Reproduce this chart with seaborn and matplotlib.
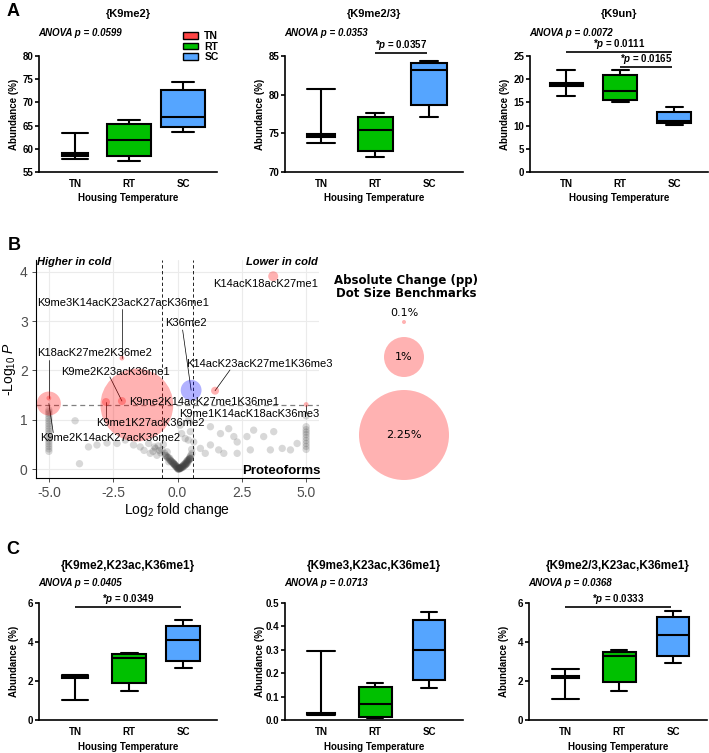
#!/usr/bin/env python3

import numpy as np
import pandas as pd
import matplotlib.pyplot as plt
import seaborn as sns
from matplotlib.patches import Patch
from matplotlib.ticker import FormatStrFormatter

sns.set_theme(style="ticks")
plt.rcParams['font.family'] = ['Liberation Sans', 'DejaVu Sans']
plt.rcParams['mathtext.fontset'] = 'custom'
plt.rcParams['mathtext.rm'] = 'Liberation Sans'
plt.rcParams['mathtext.it'] = 'Liberation Sans:italic'
plt.rcParams['mathtext.bf'] = 'Liberation Sans:bold'
plt.rcParams['mathtext.bfit'] = 'Liberation Sans:italic:bold'
plt.rcParams['axes.unicode_minus'] = False
for k in ['text.color', 'axes.labelcolor', 'xtick.color', 'ytick.color', 'axes.edgecolor']:
    plt.rcParams[k] = 'black'

# ============================================
# Data
# ============================================
groups = ['TN', 'RT', 'SC']
group_colors = ['#FF4545', '#00C000', '#55A5FF']

# five-number summaries per group: min, q1, median, q3, max (abundance %)
k9me2 = {'TN': [57.8, 58.4, 58.7, 59.0, 63.5],
         'RT': [57.4, 58.4, 61.9, 65.3, 66.2],
         'SC': [63.7, 64.6, 66.8, 72.6, 74.4]}
k9me23 = {'TN': [73.8, 74.55, 74.7, 74.85, 80.7],
          'RT': [71.9, 72.7, 75.4, 77.1, 77.6],
          'SC': [77.1, 78.7, 83.2, 84.1, 84.4]}
k9un = {'TN': [16.4, 18.6, 18.85, 19.1, 21.9],
        'RT': [15.1, 15.6, 17.5, 20.8, 21.9],
        'SC': [10.1, 10.5, 10.9, 13.0, 14.1]}
k9me2_k23ac_k36me1 = {'TN': [1.03, 2.13, 2.18, 2.24, 2.31],
                      'RT': [1.49, 1.92, 3.17, 3.38, 3.46],
                      'SC': [2.66, 3.03, 4.11, 4.83, 5.14]}
k9me3_k23ac_k36me1 = {'TN': [0.021, 0.024, 0.027, 0.031, 0.297],
                      'RT': [0.007, 0.014, 0.069, 0.140, 0.160],
                      'SC': [0.136, 0.171, 0.300, 0.426, 0.461]}
k9me23_k23ac_k36me1 = {'TN': [1.06, 2.14, 2.20, 2.26, 2.61],
                       'RT': [1.51, 1.94, 3.26, 3.51, 3.60],
                       'SC': [2.91, 3.29, 4.37, 5.28, 5.61]}

anova_p = ['0.0599', '0.0353', '0.0072', '0.0405', '0.0713', '0.0368']
# pairwise comparisons: (group a, group b, p)
pairs_k9me23 = [('RT', 'SC', '0.0357')]
pairs_k9un = [('TN', 'SC', '0.0111'), ('RT', 'SC', '0.0165')]
pairs_c1 = [('TN', 'SC', '0.0349')]
pairs_c3 = [('TN', 'SC', '0.0333')]

# volcano: non-significant proteoforms (log2 FC, -log10 p)
ns_lfc = [-5.0, -5.0, -5.0, -5.0, -5.0, -5.0, -5.0, -5.0, -5.0, -5.0, -5.0, -5.0,
          -5.0, -5.0, -5.0, -5.0, -5.0, -5.0,
          5.0, 5.0, 5.0, 5.0, 5.0, 5.0, 5.0, 5.0, 5.0, 5.0,
          -3.98, -3.81, -3.46, -3.13, -2.74, -2.35, -2.03, -1.71, -1.45, -1.12, -0.86,
          -0.60, -1.06, -0.80, -0.47, -0.41, -0.34, -0.28, -0.15, -0.08, -0.02, 0.05,
          0.11, 0.18, 0.24, 0.30, 0.37, 0.43, 0.50, 0.56, 0.43, 0.50, 0.30, 0.63, 0.16,
          0.42, 0.10, 1.28, 1.67, 1.99, 2.19, 2.32, 2.70, 2.96, 3.35, 3.74, 4.07, 4.39,
          4.65, 1.28, 1.60, 1.80, 2.32, 2.83, 3.61, 0.89, 1.08,
          -0.20, -0.10, 0.00, 0.02, 0.08, 0.14, 0.20, 0.27, 0.33, 0.40, 0.47, -0.25,
          -0.05, 0.07, 0.12, -0.12, 0.35, 0.45, -0.50, -0.70, -0.90, -0.65, -0.30,
          0.52, 0.55, -1.30, -0.95, -0.75, -0.55, -0.40,
          -0.45, -0.38, -0.32, -0.26, -0.22, -0.18, -0.14, -0.10, -0.06, -0.03, 0.01,
          0.04, 0.06, 0.09, 0.13, 0.16, 0.19, 0.22, 0.26, 0.29, 0.32, 0.36, 0.39,
          0.42, 0.46, 0.49, -0.16, 0.03, 0.10, 0.21, 0.31, -0.36, 0.38, 0.48]
ns_logp = [1.20, 1.16, 1.12, 1.07, 1.02, 0.97, 0.92, 0.87, 0.82, 0.77, 0.72, 0.66,
           0.61, 0.56, 0.51, 0.46, 0.41, 0.36,
           1.08, 0.86, 0.80, 0.75, 0.70, 0.64, 0.58, 0.52, 0.46, 0.40,
           0.98, 0.11, 0.45, 0.49, 0.53, 0.52, 0.59, 0.49, 0.45, 0.52, 0.42,
           0.39, 0.32, 0.28, 0.28, 0.25, 0.15, 0.18, 0.11, 0.08, 0.05, 0.01,
           0.01, 0.03, 0.05, 0.08, 0.11, 0.17, 0.22, 0.32, 0.99, 0.76, 0.62, 0.55, 0.72,
           0.59, 0.89, 0.86, 0.72, 0.82, 0.66, 0.55, 0.66, 0.79, 0.66, 0.76, 0.42, 0.39,
           0.52, 0.49, 0.39, 0.32, 0.32, 0.39, 0.39, 0.42, 0.32,
           0.14, 0.09, 0.03, 0.00, 0.02, 0.02, 0.04, 0.07, 0.10, 0.14, 0.20, 0.16,
           0.06, 0.00, 0.03, 0.10, 0.12, 0.19, 0.32, 0.38, 0.45, 0.33, 0.22,
           0.28, 0.40, 0.38, 0.36, 0.47, 0.50, 0.35,
           0.27, 0.23, 0.20, 0.17, 0.15, 0.12, 0.10, 0.07, 0.05, 0.03, 0.01,
           0.00, 0.01, 0.02, 0.03, 0.05, 0.06, 0.08, 0.10, 0.11, 0.13, 0.16, 0.18,
           0.19, 0.22, 0.25, 0.13, 0.02, 0.02, 0.06, 0.09, 0.24, 0.15, 0.21]

# volcano: labelled proteoforms
sig_names = ['K14acK18acK27me1', 'K9me3K14acK23acK27acK36me1', 'K18acK27me2K36me2',
             'K9me2K14acK27acK36me2', 'K9me2K23acK36me1', 'K9me2K14acK27me1K36me1',
             'K9me1K27acK36me2', 'K36me2', 'K14acK23acK27me1K36me3', 'K9me1K14acK18acK36me3']
sig_lfc = [3.72, -2.16, -5.0, -5.0, -2.16, -1.58, -2.78, 0.53, 1.46, 5.0]
sig_logp = [3.91, 2.25, 1.44, 1.33, 1.38, 1.30, 1.36, 1.60, 1.59, 1.31]
sig_change = [0.25, 0.12, 0.12, 0.60, 0.20, 1.82, 0.20, 0.52, 0.20, 0.12]  # absolute change, pp
bench_change = [0.1, 1.0, 2.25]

fc_cut = 0.585
p_cut = 1.301

# label placement (data coords) and leader line start, None = no line
label_pos = [(3.44, 3.75), (-2.12, 3.37), (-3.21, 2.35), (-2.63, 0.63), (-2.41, 1.97),
             (1.03, 1.36), (-1.07, 0.93), (0.33, 2.96), (3.17, 2.13), (2.80, 1.12)]
seg_from = [None, (-2.16, 3.25), (-5.0, 2.22), (-4.83, 0.74), (-2.63, 1.87),
            None, (-2.78, 1.02), (0.20, 2.82), (2.04, 2.01), (5.0, 1.13)]

# ============================================
# Figure helpers
# ============================================
W, H = 709, 753
fig = plt.figure(figsize=(W / 100, H / 100), dpi=100)


def px_axes(left, top, right, bottom):
    return fig.add_axes([left / W, 1 - bottom / H, (right - left) / W, (bottom - top) / H])


def ftext(x, y, s, **kw):
    kw.setdefault('ha', 'center')
    kw.setdefault('va', 'center')
    return fig.text(x / W, 1 - y / H, s, **kw)


def box_panel(ax, stats, box_w, tn_w, tn_cap, yticks):
    df = pd.DataFrame([(g, v) for g in groups for v in stats[g]], columns=['group', 'value'])
    for g, col in zip(groups, group_colors):
        w = tn_w if g == 'TN' else box_w
        n0 = len(ax.lines)
        sns.boxplot(data=df[df['group'] == g], x='group', y='value', order=groups,
                    color=col, saturation=1, width=w, whis=(0, 100), showfliers=False,
                    linecolor='black', linewidth=1.5, ax=ax)
        if g == 'TN':
            lo, hi = stats[g][0], stats[g][-1]
            for ln in ax.lines[n0:]:
                yd = np.asarray(ln.get_ydata(), dtype=float)
                if len(yd) == 2 and yd[0] == yd[1] and yd[0] in (lo, hi):
                    ln.set_xdata([-w * tn_cap / 2, w * tn_cap / 2])
    ax.set_xlim(-0.67, 2.63)
    ax.set_ylim(yticks[0], yticks[-1])
    ax.set_yticks(yticks)
    sns.despine(ax=ax)
    for s in ['left', 'bottom']:
        ax.spines[s].set_linewidth(1.2)
    ax.tick_params(axis='y', length=3, width=1.2, labelsize=7, pad=1)
    ax.tick_params(axis='x', length=0, labelsize=7, pad=5)
    ax.set_xlabel('')
    ax.set_ylabel('')
    plt.setp(ax.get_xticklabels() + ax.get_yticklabels(), fontweight='bold')


def sig_bar(ax, pairs, ys):
    for (a, b, p), y in zip(pairs, ys):
        x0, x1 = groups.index(a), groups.index(b) - 0.03
        ax.plot([x0, x1], [y, y], color='black', lw=1.2, clip_on=False, solid_capstyle='butt')
        ax.annotate(r'*$\mathbfit{p}$ = ' + p, xy=((x0 + x1) / 2, y),
                    xytext=(0, 0.6), textcoords='offset points', ha='center', va='bottom',
                    fontsize=7, fontweight='bold', annotation_clip=False)


# ============================================
# Panels A and C: box plots
# ============================================
box_specs = [
    # stats, title, anova, left, top, bottom, box w, TN w, TN cap, yticks
    (k9me2, '{K9me2}', anova_p[0], 39, 56, 172, 0.83, 0.48, 1.0, [55, 60, 65, 70, 75, 80]),
    (k9me23, '{K9me2/3}', anova_p[1], 285, 56, 172, 0.65, 0.52, 1.0, [70, 75, 80, 85]),
    (k9un, '{K9un}', anova_p[2], 530, 56, 172, 0.63, 0.61, 0.55, [0, 5, 10, 15, 20, 25]),
    (k9me2_k23ac_k36me1, '{K9me2,K23ac,K36me1}', anova_p[3], 39, 603, 720, 0.63, 0.48, 1.0,
     [0, 2, 4, 6]),
    (k9me3_k23ac_k36me1, '{K9me3,K23ac,K36me1}', anova_p[4], 285, 603, 720, 0.61, 0.52, 1.0,
     [0.0, 0.1, 0.2, 0.3, 0.4, 0.5]),
    (k9me23_k23ac_k36me1, '{K9me2/3,K23ac,K36me1}', anova_p[5], 529, 603, 720, 0.61, 0.50, 1.0,
     [0, 2, 4, 6]),
]

box_axes = []
for i, (stats, title, p, left, top, bottom, bw, tw, tc, yt) in enumerate(box_specs):
    right = left + 178
    ax = px_axes(left, top, right, bottom)
    box_panel(ax, stats, bw, tw, tc, yt)
    box_axes.append(ax)
    row_a = i < 3
    ftext((left + right) / 2, 14 if row_a else 566, title,
          fontsize=8 if row_a else 8.5, fontweight='bold')
    ftext(left - 1, 33 if row_a else 583, 'ANOVA p = ' + p, ha='left',
          fontsize=7, fontweight='bold', fontstyle='italic')
    ftext((left + right) / 2, 198 if row_a else 747, 'Housing Temperature',
          fontsize=7, fontweight='bold')
    ftext(left - 25, (top + bottom) / 2, 'Abundance (%)', rotation=90,
          fontsize=7, fontweight='bold')

sig_bar(box_axes[1], pairs_k9me23, [85.4])
sig_bar(box_axes[2], pairs_k9un, [25.9, 22.6])
sig_bar(box_axes[3], pairs_c1, [5.8])
sig_bar(box_axes[5], pairs_c3, [5.8])

handles = [Patch(facecolor=c, edgecolor='black', linewidth=1.0, label=g)
           for g, c in zip(groups, group_colors)]
fig.legend(handles=handles, loc='upper left', bbox_to_anchor=(183 / W, 1 - 31 / H),
           frameon=False, prop={'weight': 'bold', 'size': 7.5}, handlelength=1.45,
           handleheight=0.6, handletextpad=0.6, labelspacing=0.05, borderaxespad=0,
           borderpad=0)

# ============================================
# Panel B: volcano plot
# ============================================
axB = px_axes(36, 260, 319, 478)
px_per_pp = 40  # dot diameter in pixels per percentage point


def dot_area(change):
    return (0.72 * px_per_pp * np.asarray(change)) ** 2


ns = pd.DataFrame({'lfc': ns_lfc, 'logp': ns_logp})
sns.scatterplot(data=ns, x='lfc', y='logp', color='#404040', alpha=0.2, s=28,
                edgecolor='none', ax=axB, legend=False, zorder=2)

axB.axvline(-fc_cut, ls=(0, (4, 3)), color='black', lw=0.6, zorder=1)
axB.axvline(fc_cut, ls=(0, (4, 3)), color='black', lw=0.6, zorder=1)
axB.axhline(p_cut, ls=(0, (4, 3)), color='#808080', lw=0.9, zorder=1)

for (lx, ly), seg, px_, py_ in zip(label_pos, seg_from, sig_lfc, sig_logp):
    if seg is not None:
        axB.plot([seg[0], px_], [seg[1], py_], color='black', lw=0.5, zorder=2)

sig = pd.DataFrame({'name': sig_names, 'lfc': sig_lfc, 'logp': sig_logp, 'change': sig_change})
sig['cls'] = np.where(np.abs(sig['lfc']) >= fc_cut, 'p and FC', 'p only')
sig['s'] = dot_area(sig['change'])
sig = sig.sort_values('s', ascending=False)
for cls, col in [('p and FC', 'red'), ('p only', 'blue')]:
    sub = sig[sig['cls'] == cls]
    sns.scatterplot(data=sub, x='lfc', y='logp', s=sub['s'].values, color=col, alpha=0.3,
                    edgecolor='none', ax=axB, legend=False, zorder=3)

for name, (lx, ly) in zip(sig_names, label_pos):
    axB.text(lx, ly, name, ha='center', va='center', fontsize=8, zorder=4)

axB.text(-5.45, 4.19, 'Higher in cold', ha='left', va='center', fontsize=8,
         fontweight='bold', fontstyle='italic')
axB.text(5.45, 4.19, 'Lower in cold', ha='right', va='center', fontsize=8,
         fontweight='bold', fontstyle='italic')
axB.text(5.55, -0.04, 'Proteoforms', ha='right', va='center', fontsize=9.5, fontweight='bold')

axB.set_xlim(-5.5, 5.5)
axB.set_ylim(-0.18, 4.24)
axB.set_xticks([-5, -2.5, 0, 2.5, 5])
axB.set_yticks([0, 1, 2, 3, 4])
axB.xaxis.set_major_formatter(FormatStrFormatter('%.1f'))
axB.grid(True, color='#EBEBEB', lw=0.8)
axB.set_axisbelow(True)
sns.despine(ax=axB)
for s in ['left', 'bottom']:
    axB.spines[s].set_linewidth(0.8)
axB.tick_params(length=3, width=0.6, color='#333333', labelcolor='#4D4D4D',
                labelsize=10, pad=3)
axB.set_xlabel('')
axB.set_ylabel('')
ftext(177, 510, r'Log$_{2}$ fold change', fontsize=10)
ftext(9, 369, r'-Log$_{10}$ $\mathit{P}$', rotation=90, fontsize=10)

# dot size benchmarks
axL = px_axes(330, 300, 480, 490)
axL.set_xlim(330, 480)
axL.set_ylim(490, 300)
axL.axis('off')
bench = pd.DataFrame({'change': bench_change})
diam = px_per_pp * bench['change']
centers = []
y = 320
for d in diam:
    centers.append(y + d / 2)
    y += d + 13
bench['x'] = 404
bench['y'] = centers
sns.scatterplot(data=bench, x='x', y='y', s=dot_area(bench['change']), color='red',
                alpha=0.3, edgecolor='none', ax=axL, legend=False)
axL.set_xlim(330, 480)
axL.set_ylim(490, 300)
for c, yc, d in zip(bench['change'], bench['y'], diam):
    lab = f'{c:g}%'
    ty = yc - d / 2 - 7 if d < 15 else yc
    axL.text(404, ty, lab, ha='center', va='center', fontsize=8, family='DejaVu Sans')
ftext(406, 287, 'Absolute Change (pp)\nDot Size Benchmarks', fontsize=8.5,
      fontweight='bold', family='DejaVu Sans', linespacing=1.05)

# panel letters
ftext(13, 12, 'A', fontsize=13, fontweight='bold')
ftext(14, 246, 'B', fontsize=13, fontweight='bold')
ftext(13, 549, 'C', fontsize=13, fontweight='bold')

fig.savefig('out.png', dpi=100)
